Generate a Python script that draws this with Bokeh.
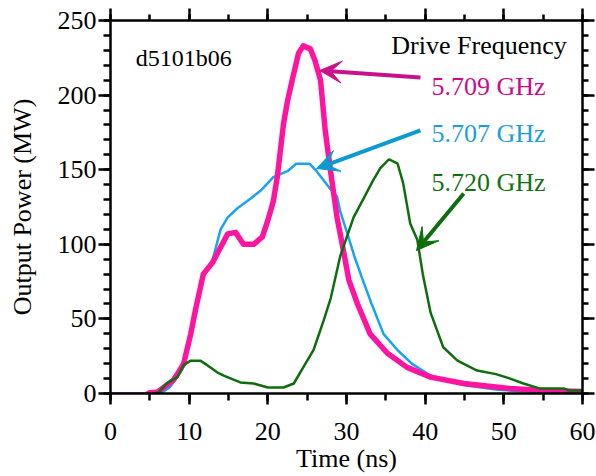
from bokeh.plotting import figure
from bokeh.models import (LinearAxis, SingleIntervalTicker, Range1d, Label, Arrow, VeeHead,
                          CustomJSTickFormatter)
from bokeh.embed import file_html
from bokeh.resources import INLINE

# ---------------- data ----------------
t_709 = [0, 4.5, 5.0, 6.0, 7.0, 8.0, 8.5, 9.3, 10.2, 10.8, 11.8, 13.0, 14.0, 14.9, 15.9,
         16.9, 18.2, 19.3, 20.0, 20.7, 21.2, 22.0, 22.5, 23.1, 23.9, 24.5, 25.4, 26.0,
         26.7, 27.3, 28.0, 28.8, 29.6, 30.3, 31.4, 33.0, 35.2, 37.7, 40.7, 44.9, 50.8, 55, 60]
p_709 = [-1, -1, 0.5, 1, 5, 9, 13, 20, 40, 56, 80, 88, 98, 107, 108,
         100, 100, 105, 116, 129, 145, 181, 196, 210, 228, 233, 231, 223,
         210, 176, 148, 118, 96, 76, 60, 40, 27, 17.5, 11, 6.7, 3.4, 2, 1.3]

t_707 = [0, 4.8, 5.5, 6.5, 7.5, 8.5, 9.3, 10.2, 10.8, 11.8, 13.0, 14.0, 14.9, 16.1, 17.4,
         19.1, 20.7, 22.5, 23.6, 25.3, 26.2, 27.8, 28.8, 29.2, 30.0, 31.0, 32.0, 33.2, 34.7,
         36.5, 38.3, 40.5, 42.7, 45, 49, 52, 56, 60]
p_707 = [-1, -1, -0.5, 0.5, 4, 11, 18, 38, 54, 78, 90, 110, 118, 124, 129,
         136, 145, 149, 154, 154, 149, 138, 132, 122, 109, 92, 77, 60, 40,
         29, 20, 12.5, 9, 5.5, 2.7, 1.5, 1, 1]

t_720 = [0, 4.8, 5.5, 6.1, 7.2, 8.5, 9.3, 10.2, 11.4, 12.3, 13.6, 14.4, 16.5, 18.2, 20.0,
         22.0, 23.3, 24.5, 25.8, 27.1, 28.0, 29.2, 30.9, 32.2, 33.4, 34.3, 35.4, 36.5, 37.2,
         38.1, 39.0, 39.7, 40.7, 42.3, 44.1, 46.6, 49.0, 50.8, 52.5, 54.5, 57.6, 58.3, 60]
p_720 = [-1, -1, 0, 0.7, 7, 11, 19, 22, 22, 19, 14, 12, 7.4, 6.7, 4,
         4, 6.7, 17.5, 29, 49, 64, 92, 118, 131, 143, 151, 157, 154, 141,
         114, 103, 80, 54, 31, 22, 15.4, 13, 10, 6.7, 3.4, 3.4, 2, 2]

x_ticks_interval = 10
y_ticks_interval = 50

run_id = "d5101b06"
legend_title = "Drive Frequency"
series_names = ["5.709 GHz", "5.707 GHz", "5.720 GHz"]

# annotation anchors (data units): label (x, baseline y), arrow tail, arrow tip
label_x = [40.8, 40.8, 40.8]
label_y = [206, 174, 141.4]
arrow_x0 = [39.4, 39.4, 44.9]
arrow_y0 = [211.8, 176.3, 134]
arrow_x1 = [26.6, 26.2, 38.9]
arrow_y1 = [216.5, 150.8, 95.8]

# ---------------- styling ----------------
FONT = "Liberation Serif"
FS = "26px"
line_colors = ["#FF14A0", "#18A4F2", "#0E6E0E"]
text_colors = ["#CC0A8C", "#1A9FD6", "#127212"]
arrow_colors = ["#C8128C", "#0C9BD0", "#0E6E0E"]

p = figure(width=596, height=476, output_backend="svg", toolbar_location=None,
           x_range=Range1d(0, 60), y_range=Range1d(0, 250),
           min_border_left=110, min_border_right=14, min_border_top=20, min_border_bottom=83)
p.outline_line_color = None
p.xgrid.visible = False
p.ygrid.visible = False
p.background_fill_color = "white"
p.border_fill_color = "white"

xt = SingleIntervalTicker(interval=x_ticks_interval, num_minor_ticks=2)
yt = SingleIntervalTicker(interval=y_ticks_interval, num_minor_ticks=5)


def style_axis(ax, ticker, show_labels, tick_out, minor_out):
    ax.ticker = ticker
    ax.axis_line_width = 2.5
    ax.axis_line_color = "black"
    ax.major_tick_line_width = 2.5
    ax.minor_tick_line_width = 2.5
    ax.major_tick_out = tick_out
    ax.major_tick_in = 0
    ax.minor_tick_out = minor_out
    ax.minor_tick_in = 0
    ax.major_label_text_font = FONT
    ax.major_label_text_font_size = FS
    ax.major_label_text_color = "black"
    ax.axis_label_text_font = FONT
    ax.axis_label_text_font_size = FS
    ax.axis_label_text_font_style = "normal"
    ax.axis_label_text_color = "black"
    if not show_labels:
        ax.formatter = CustomJSTickFormatter(code="return ''")
        ax.major_label_standoff = 0


xa = p.xaxis[0]
ya = p.yaxis[0]
style_axis(xa, xt, True, 11, 7)
style_axis(ya, yt, True, 12, 7)
xa.axis_label = "Time (ns)"
ya.axis_label = "Output Power (MW)"
xa.major_label_standoff = 18
xa.axis_label_standoff = 1
ya.major_label_standoff = 2
ya.axis_label_standoff = 18

top = LinearAxis()
right = LinearAxis()
style_axis(top, xt, False, 12, 6)
style_axis(right, yt, False, 12, 6)
p.add_layout(top, "above")
p.add_layout(right, "right")

# curves
p.line(t_707, p_707, line_color=line_colors[1], line_width=2.5)
p.line(t_709, p_709, line_color=line_colors[0], line_width=5.5, line_join="round")
p.line(t_720, p_720, line_color=line_colors[2], line_width=2.5)

# texts
p.add_layout(Label(x=3.2, y=225, text=run_id, text_font=FONT, text_font_size="24px",
                   text_color="black", text_baseline="alphabetic"))
p.add_layout(Label(x=58.0, y=233, text=legend_title, text_font=FONT, text_font_size=FS,
                   text_color="black", text_align="right", text_baseline="alphabetic"))
for i in range(3):
    p.add_layout(Label(x=label_x[i], y=label_y[i], text=series_names[i], text_font=FONT,
                       text_font_size=FS, text_color=text_colors[i], text_baseline="alphabetic"))
    p.add_layout(Arrow(end=VeeHead(size=22, fill_color=arrow_colors[i], line_color=arrow_colors[i]),
                       x_start=arrow_x0[i], y_start=arrow_y0[i], x_end=arrow_x1[i], y_end=arrow_y1[i],
                       line_color=arrow_colors[i], line_width=4))

open("out.html", "w").write(file_html(p, INLINE))
